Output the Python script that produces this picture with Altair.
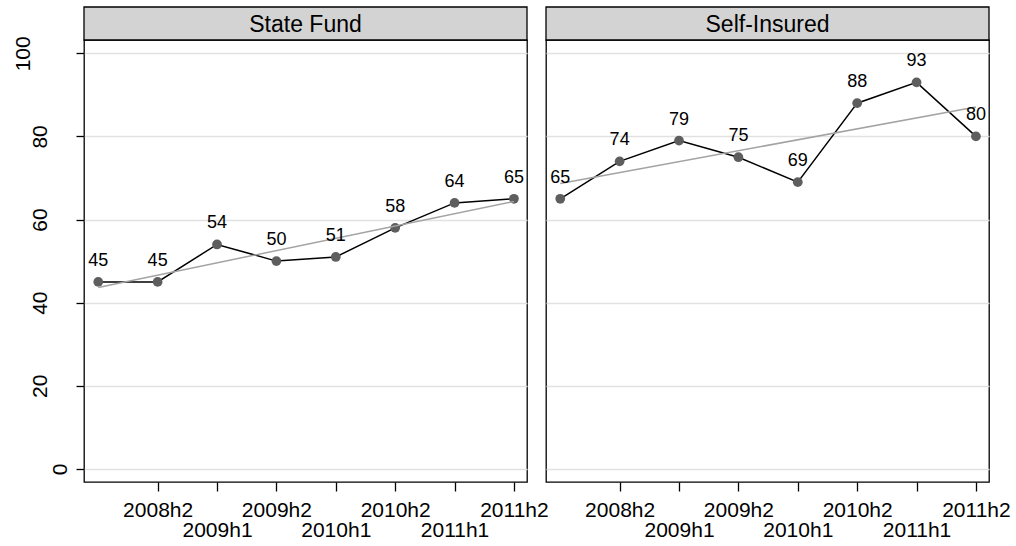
import altair as alt
import pandas as pd

# Half-year periods and the two series
periods = ["2008h1", "2008h2", "2009h1", "2009h2", "2010h1", "2010h2", "2011h1", "2011h2"]
state_fund = [45, 45, 54, 50, 51, 58, 64, 65]
self_insured = [65, 74, 79, 75, 69, 88, 93, 80]
panel_names = ["State Fund", "Self-Insured"]
y_ticks = [0, 20, 40, 60, 80, 100]
x_ticks = [1, 2, 3, 4, 5, 6, 7]

FONT = "Liberation Sans"
W, H = 443, 442
HEADER_H = 33
X_DOMAIN = [-0.24, 7.22]
Y_DOMAIN = [-3.15, 103.2]

# Period names looked up by index; even ticks drop to a second row
lookup = "[" + ",".join(f"'{p}'" for p in periods) + "]"
x_label_expr = (
    f"datum.value % 2 == 1 ? {lookup}[datum.value] : ['', {lookup}[datum.value]]"
)

x_axis = alt.Axis(
    values=x_ticks, labelExpr=x_label_expr, title=None, grid=False, domain=False,
    tickSize=9, tickColor="black", tickWidth=1.3,
    labelFont=FONT, labelFontSize=21, labelColor="black",
    labelPadding=25, labelBaseline="alphabetic", labelAlign="center",
    labelLineHeight=20, labelOverlap=False, labelFlush=False,
)

y_axis_left = alt.Axis(
    values=y_ticks, title=None, grid=True, gridColor="#e1e1e1", gridWidth=1.5,
    domain=False, tickSize=8, tickColor="black", tickWidth=1.3,
    labelAngle=270, labelAlign="center", labelBaseline="alphabetic",
    labelFont=FONT, labelFontSize=21, labelColor="black",
    labelPadding={
        "condition": [
            {"test": "datum.value >= 100", "value": 47},
            {"test": "datum.value < 10", "value": 10},
        ],
        "value": 30,
    },
    labelOverlap=False, labelFlush=False,
)

y_axis_inner = alt.Axis(
    values=y_ticks, title=None, grid=True, gridColor="#e1e1e1", gridWidth=1.5,
    domain=False, ticks=False, labels=False,
)


def panel(name, values, y_axis):
    df = pd.DataFrame({"t": list(range(len(periods))), "v": values, "period": periods})
    base = alt.Chart(df).encode(
        x=alt.X("t:Q", scale=alt.Scale(domain=X_DOMAIN, nice=False, zero=False), axis=x_axis),
        y=alt.Y("v:Q", scale=alt.Scale(domain=Y_DOMAIN, nice=False, zero=False), axis=y_axis),
    )
    line = base.mark_line(color="black", strokeWidth=1.5)
    pts = base.mark_circle(size=95, color="#5e5e5e", opacity=1)
    fit = base.transform_regression("t", "v").mark_line(color="#a3a3a3", strokeWidth=1.5)
    labels = base.mark_text(
        font=FONT, fontSize=18, dy=-16, baseline="alphabetic", color="black"
    ).encode(text="v:Q")

    head_df = pd.DataFrame({"panel": [name]})
    header = alt.Chart(head_df).mark_rect(
        fill="#d3d3d3", stroke="black", strokeWidth=1.3
    ).encode(
        x=alt.value(0), x2=alt.value(W), y=alt.value(-HEADER_H), y2=alt.value(0)
    )
    head_text = alt.Chart(head_df).mark_text(
        font=FONT, fontSize=23, color="black", baseline="middle", align="center"
    ).encode(x=alt.value(W / 2), y=alt.value(-HEADER_H / 2 + 1), text="panel:N")

    return alt.layer(header, head_text, line, pts, fit, labels).properties(width=W, height=H)


chart = alt.hconcat(
    panel(panel_names[0], state_fund, y_axis_left),
    panel(panel_names[1], self_insured, y_axis_inner),
    spacing=19,
    bounds="flush",
).properties(
    padding={"left": 11, "top": 5, "right": 5, "bottom": 5},
    background="white",
).configure_view(stroke="black", strokeWidth=1.3)

chart.save("out.html", embed_options={"renderer": "svg", "actions": False})
